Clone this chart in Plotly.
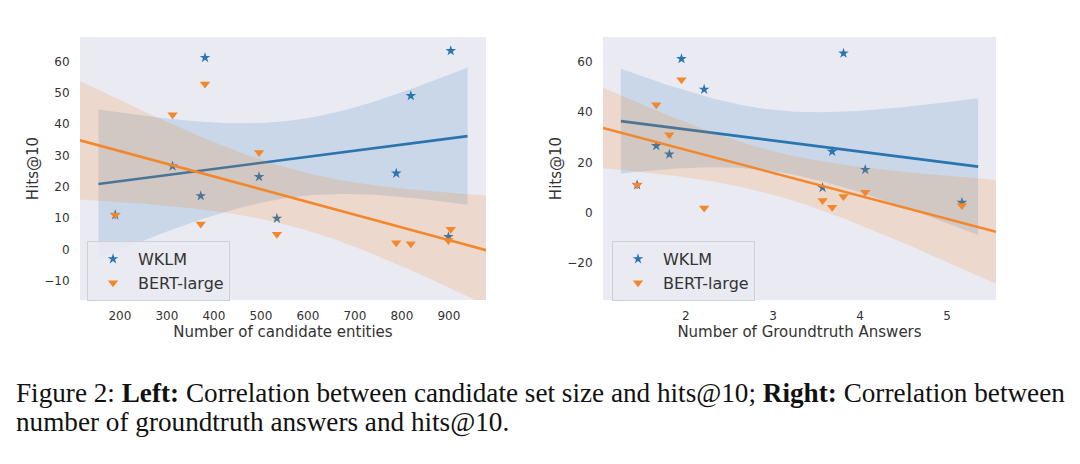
import numpy as np
import plotly.graph_objects as go

# ---- data (one entry per evaluated relation/question group) ----
num_candidates = [190, 312, 381, 372, 496, 534, 788, 819, 904, 899]
num_answers = [1.44, 1.66, 1.95, 4.06, 1.81, 3.57, 3.68, 2.21, 3.81, 5.17]
wklm_hits = [11.0, 26.6, 61.3, 17.1, 23.2, 9.9, 24.3, 49.1, 63.5, 4.0]
bert_hits = [11.0, 43.0, 52.9, 8.1, 31.0, 4.8, 2.1, 1.8, 6.4, 2.8]

series_names = ["WKLM", "BERT-large"]
left_yticks = [-10, 0, 10, 20, 30, 40, 50, 60]
left_xticks = [200, 300, 400, 500, 600, 700, 800, 900]
right_yticks = [-20, 0, 20, 40, 60]
right_xticks = [2, 3, 4, 5]

BLUE = "#2a74b0"
ORANGE = "#f3872c"
BLUE_FILL = "rgba(31,119,180,0.16)"
ORANGE_FILL = "rgba(255,127,14,0.16)"


def pad(lo, hi, frac=0.05):
    r = hi - lo
    return lo - frac * r, hi + frac * r


def fit(x, y, xs):
    x = np.asarray(x, float)
    y = np.asarray(y, float)
    n = len(x)
    b1, b0 = np.polyfit(x, y, 1)
    res = y - (b0 + b1 * x)
    sigma = np.sqrt(np.sum(res ** 2) / n)
    xbar = x.mean()
    sxx = np.sum((x - xbar) ** 2)
    yl = b0 + b1 * xs
    se = sigma * np.sqrt(1.0 / n + (xs - xbar) ** 2 / sxx)
    return yl, yl - 1.96 * se, yl + 1.96 * se


fig = go.Figure()


def add_panel(xdata, xa, ya, legend):
    lo1, hi1 = pad(min(xdata), max(xdata))
    lo2, hi2 = pad(lo1, hi1)
    specs = [
        (wklm_hits, series_names[0], BLUE, BLUE_FILL, "star", 8, (lo1, hi1)),
        (bert_hits, series_names[1], ORANGE, ORANGE_FILL, "triangle-down", 9, (lo2, hi2)),
    ]
    for ydata, name, col, fill, sym, msize, (a, b) in specs:
        xs = np.linspace(a, b, 120)
        yl, ylo, yhi = fit(xdata, ydata, xs)
        fig.add_trace(go.Scatter(x=np.concatenate([xs, xs[::-1]]),
                                 y=np.concatenate([yhi, ylo[::-1]]),
                                 fill="toself", fillcolor=fill, line=dict(width=0),
                                 mode="lines", hoverinfo="skip", showlegend=False,
                                 xaxis=xa, yaxis=ya))
        fig.add_trace(go.Scatter(x=xs, y=yl, mode="lines",
                                 line=dict(color=col, width=2.6),
                                 showlegend=False, xaxis=xa, yaxis=ya))
        fig.add_trace(go.Scatter(x=xdata, y=ydata, mode="markers", name=name,
                                 marker=dict(symbol=sym, size=msize, color=col,
                                             line=dict(width=0)),
                                 legend=legend, xaxis=xa, yaxis=ya))
    return (lo2, hi2)


rl = add_panel(num_candidates, "x", "y", "legend")
rr = add_panel(num_answers, "x2", "y2", "legend2")

H = 464.0
W = 1080.0
ydom = [(H - 300) / H, (H - 37) / H]
tickfont = dict(family="DejaVu Sans", size=12, color="#333333")
titlefont = dict(family="DejaVu Sans", size=15, color="#333333")

common_x = dict(showgrid=False, zeroline=False, showline=False, ticks="outside",
                ticklen=5, tickcolor="rgba(0,0,0,0)", tickfont=tickfont, automargin=False)
common_y = dict(showgrid=False, zeroline=False, showline=False, ticks="outside",
                ticklen=7, tickcolor="rgba(0,0,0,0)", tickfont=tickfont, automargin=False)

legend_style = dict(xanchor="left", yanchor="top",
                    bgcolor="rgba(234,234,242,0.85)", bordercolor="#cfcfd8", borderwidth=1,
                    font=dict(family="DejaVu Sans", size=16, color="#333333"),
                    itemwidth=40, tracegroupgap=0)

fig.update_layout(
    width=1080, height=464,
    margin=dict(l=0, r=0, t=0, b=0, autoexpand=False),
    paper_bgcolor="white", plot_bgcolor="#EAEAF2",
    xaxis=dict(domain=[80 / W, 486 / W], range=list(rl), tickvals=left_xticks,
               title=dict(text="Number of candidate entities", font=titlefont, standoff=4),
               anchor="y", **common_x),
    yaxis=dict(domain=ydom, range=[-16.2, 67.9], tickvals=left_yticks,
               title=dict(text="Hits@10", font=titlefont, standoff=2),
               anchor="x", **common_y),
    xaxis2=dict(domain=[603 / W, 996 / W], range=list(rr), tickvals=right_xticks,
                title=dict(text="Number of Groundtruth Answers", font=titlefont, standoff=4),
                anchor="y2", **common_x),
    yaxis2=dict(domain=ydom, range=[-34.9, 70.0], tickvals=right_yticks,
                title=dict(text="Hits@10", font=titlefont, standoff=2),
                anchor="x2", **common_y),
    legend=dict(x=87 / W, y=(H - 241) / H, **legend_style),
    legend2=dict(x=612 / W, y=(H - 241) / H, **legend_style),
)

cap_font = dict(family="Liberation Serif", size=27.2, color="#111111")
fig.add_annotation(x=14 / W, y=(H - 393) / H, xref="paper", yref="paper",
                   xanchor="left", yanchor="middle", showarrow=False, font=cap_font,
                   text="Figure 2: <b>Left:</b> Correlation between candidate set size and hits@10; "
                        "<b>Right:</b> Correlation between")
fig.add_annotation(x=14 / W, y=(H - 422) / H, xref="paper", yref="paper",
                   xanchor="left", yanchor="middle", showarrow=False, font=cap_font,
                   text="number of groundtruth answers and hits@10.")

fig.write_html("out.html", config={"displayModeBar": False},
               post_script="document.body.style.margin='0px';")
